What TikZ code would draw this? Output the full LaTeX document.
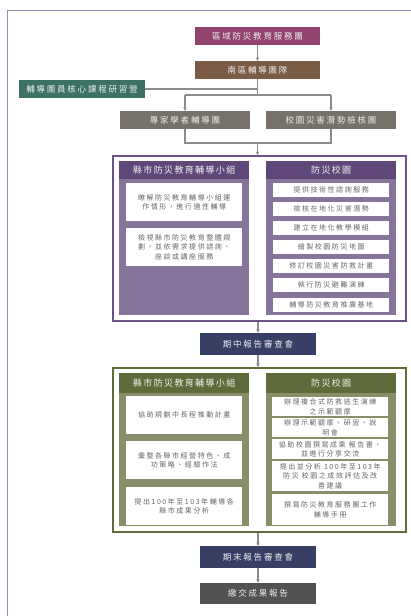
\documentclass[tikz,border=0pt]{standalone}
\usepackage{fontspec}
\setmainfont{Noto Sans CJK TC}
\newfontfamily\hdf[LetterSpace=21]{Noto Sans CJK TC}
\newfontfamily\chf[LetterSpace=15]{Noto Sans CJK TC}
\newfontfamily\bxf[LetterSpace=22]{Noto Sans CJK TC}
\usetikzlibrary{arrows.meta}
\definecolor{framec}{HTML}{9B88B3}
\definecolor{topc}{HTML}{93436F}
\definecolor{brownc}{HTML}{7A5B43}
\definecolor{tealc}{HTML}{3E7165}
\definecolor{greyc}{HTML}{767169}
\definecolor{pborder}{HTML}{6C5089}
\definecolor{phead}{HTML}{604779}
\definecolor{pbody}{HTML}{86749B}
\definecolor{navyc}{HTML}{373F65}
\definecolor{gborder}{HTML}{5E6B3A}
\definecolor{ghead}{HTML}{5F6B3A}
\definecolor{gbody}{HTML}{878F68}
\definecolor{darkc}{HTML}{525252}
\definecolor{linec}{HTML}{8C8C8C}
\definecolor{txtg}{HTML}{666666}
\begin{document}
\begin{tikzpicture}[x=1pt,y=-1pt,
  hbox/.style={minimum height=18, inner sep=0, text=white!93!black, font=\hdf\fontsize{8.5}{10}\selectfont},
  rbox/.style={minimum width=116, minimum height=22, inner sep=0, text=white!93!black, font=\hdf\fontsize{8.5}{10}\selectfont},
  panel/.style={line width=2, fill=white, minimum width=293, inner sep=0, anchor=north west},
  colbody/.style={minimum width=130, inner sep=0, anchor=north west},
  colhead/.style={minimum width=130, inner sep=0, anchor=north west, text=white!95!black, font=\chf\fontsize{9}{10}\selectfont},
  wbox/.style={fill=white, text=txtg, align=center, inner sep=0, anchor=north west, font=\bxf\fontsize{7}{9.5}\selectfont},
  conn/.style={draw=linec, line width=1.2},
  arr/.style={conn, -{Stealth[length=3.5pt,width=3.5pt]}}
]
\useasboundingbox (0,0) rectangle (411,616);
% outer frame
\draw[framec, line width=1.5] (7.5,616) -- (7.5,10.5) -- (411,10.5);

% top boxes
\node[hbox, fill=topc, minimum width=125] (top) at (257.5,36) {區域防災教育服務團};
\node[hbox, fill=brownc, minimum width=125] (south) at (257.5,70) {南區輔導團隊};
\node[hbox, fill=tealc, minimum width=126] (core) at (82,89) {輔導團員核心課程研習營};
\node[hbox, fill=greyc, minimum width=130] (expert) at (185,120) {專家學者輔導團};
\node[hbox, fill=greyc, minimum width=130] (campus) at (331,120) {校園災害潛勢檢核團};

% purple panel
\node[panel, draw=pborder, minimum height=165] (p1) at (112,155) {};
\node[colbody, fill=pbody, minimum height=154] (p1l) at (119,161) {};
\node[colhead, fill=phead, minimum height=18] (p1lh) at (119,161) {縣市防災教育輔導小組};
\node[colbody, fill=pbody, minimum height=154] (p1r) at (266,161) {};
\node[colhead, fill=phead, minimum height=18] (p1rh) at (266,161) {防災校園};
\node[wbox, minimum width=116, minimum height=38] (a1) at (126,183) {瞭解防災教育輔導小組運\\作情形，進行適性輔導};
\node[wbox, minimum width=116, minimum height=38] (a2) at (126,228) {檢視縣市防災教育整體規\\劃，並依需求提供諮詢、\\座談或講座服務};
\node[wbox, minimum width=116, minimum height=14] (b1) at (273,183) {提供技術性諮詢服務};
\node[wbox, minimum width=116, minimum height=14] (b2) at (273,202) {檢核在地化災害潛勢};
\node[wbox, minimum width=116, minimum height=14] (b3) at (273,221) {建立在地化教學模組};
\node[wbox, minimum width=116, minimum height=14] (b4) at (273,240) {繪製校園防災地圖};
\node[wbox, minimum width=116, minimum height=14] (b5) at (273,259) {修訂校園災害防救計畫};
\node[wbox, minimum width=116, minimum height=14] (b6) at (273,278) {執行防災避難演練};
\node[wbox, minimum width=116, minimum height=14] (b7) at (273,298) {輔導防災教育推廣基地};

% mid review
\node[rbox, fill=navyc] (mid) at (258,344) {期中報告審查會};

% green panel
\node[panel, draw=gborder, minimum height=164] (p2) at (112,367) {};
\node[colbody, fill=gbody, minimum height=153] (p2l) at (119,373) {};
\node[colhead, fill=ghead, minimum height=20] (p2lh) at (119,373) {縣市防災教育輔導小組};
\node[colbody, fill=gbody, minimum height=153] (p2r) at (266,373) {};
\node[colhead, fill=ghead, minimum height=20] (p2rh) at (266,373) {防災校園};
\node[wbox, minimum width=116, minimum height=38] (c1) at (126,396) {協助規劃中長程推動計畫};
\node[wbox, minimum width=116, minimum height=38] (c2) at (126,441) {彙整各縣市經營特色、成\\功策略、經驗作法};
\node[wbox, minimum width=116, minimum height=38] (c3) at (126,487) {提出100年至103年輔導各\\縣市成果分析};
\node[wbox, minimum width=116, minimum height=19] (d1) at (272,397) {辦理複合式防救逃生演練\\之示範觀摩};
\node[wbox, minimum width=116, minimum height=19] (d2) at (272,418) {辦理示範觀摩、研習、說\\明會};
\node[wbox, minimum width=116, minimum height=20] (d3) at (272,439) {協助校園撰寫成果 報告書，\\並進行分享交流};
\node[wbox, minimum width=116, minimum height=30] (d4) at (272,461) {提出並分析 100年至103年\\防災 校園之成效評估及改\\善建議};
\node[wbox, minimum width=116, minimum height=31] (d5) at (272,494) {撰寫防災教育服務團工作\\輔導手冊};

% end boxes
\node[rbox, fill=navyc] (final) at (258,557) {期末報告審查會};
\node[rbox, fill=darkc, minimum height=21] (submit) at (258,593.5) {繳交成果報告};

% connectors
\coordinate (j1) at (257.5,95);
\coordinate (j2) at (257.5,143);
\draw[arr] (top) -- (south);
\draw[conn] (south.south) -- (j1);
\draw[conn] (core.east) -- (core.east -| j1);
\draw[conn] (expert.north |- j1) -- (campus.north |- j1);
\draw[arr] (expert.north |- j1) -- (expert.north);
\draw[arr] (campus.north |- j1) -- (campus.north);
\draw[conn] (expert.south) |- (j2) -| (campus.south);
\draw[arr] (j2) -- (j2 |- p1.north);
\draw[arr] (p1.south -| mid) -- (mid.north);
\draw[arr] (mid.south) -- (mid.south |- p2.north);
\draw[arr] (p2.south -| final) -- (final.north);
\draw[arr] (final.south) -- (submit.north);
\end{tikzpicture}
\end{document}
